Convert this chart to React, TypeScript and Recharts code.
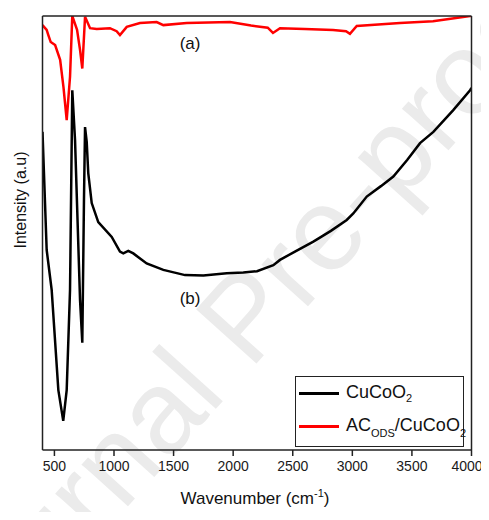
import {
  LineChart,
  Line,
  XAxis,
  YAxis,
  ReferenceDot,
} from "recharts";

// CuCoO2 (b)
const cucoWavenumber = [
  400, 435, 477, 533, 574, 603, 631, 650, 673, 715, 734, 748, 757, 771, 784,
  813, 868, 981, 1050, 1078, 1120, 1162, 1274, 1414, 1596, 1750, 1946, 2085,
  2200, 2337, 2393, 2530, 2673, 2820, 2953, 3008, 3121, 3240, 3344, 3460, 3568,
  3680, 3847, 3988, 4000,
];
const cucoIntensity = [
  73.3, 46.1, 36.9, 13.8, 6.7, 13.8, 36.9, 82.9, 71.4, 34.6, 24.7, 57.6, 74.4,
  71.0, 63.8, 56.9, 52.5, 49.1, 45.7, 45.3, 45.9, 45.3, 43.0, 41.5, 40.3, 40.2,
  40.7, 40.9, 41.2, 42.6, 43.8, 45.9, 48.0, 50.5, 53.0, 54.5, 58.4, 60.8, 63.0,
  66.8, 70.7, 73.3, 78.3, 82.9, 83.4,
];

// AC_ODS/CuCoO2 (a)
const acWavenumber = [
  400, 435, 449, 469, 506, 548, 576, 603, 631, 650, 690, 715, 734, 757, 799,
  855, 966, 1022, 1050, 1107, 1218, 1358, 1414, 1610, 1973, 2150, 2290, 2334,
  2393, 2600, 2838, 2947, 2980, 3037, 3400, 3677, 3988, 4000,
];
const acIntensity = [
  97.9, 96.8, 95.6, 94.0, 93.3, 89.9, 83.6, 76.0, 86.0, 100, 96.8, 92.2, 87.9,
  99.8, 97.2, 97.0, 97.2, 96.5, 95.6, 97.5, 98.4, 98.6, 97.9, 98.4, 98.6, 97.8,
  97.3, 96.1, 97.2, 97.0, 96.8, 96.5, 95.9, 97.7, 98.4, 98.8, 100, 100,
];

const xTicks = [500, 1000, 1500, 2000, 2500, 3000, 3500, 4000];

const cucoData = cucoWavenumber.map((x, i) => ({ x, y: cucoIntensity[i] }));
const acData = acWavenumber.map((x, i) => ({ x, y: acIntensity[i] }));

const FONT = "Arial, 'Liberation Sans', sans-serif";
const FRAME = "#222";
const frameLine = { stroke: FRAME, strokeWidth: 1.5 };

const XTitle = () => (
  <text x={247} y={496} textAnchor="middle" fontFamily={FONT} fontSize={17} fill="#111">
    <tspan>Wavenumber (cm</tspan>
    <tspan dy={-7} fontSize={11}>-1</tspan>
    <tspan dy={7}>)</tspan>
  </text>
);

const legendText = { position: "absolute" as const, left: 50, fontSize: 18, fontFamily: FONT, color: "#111", lineHeight: "20px" };

export default function App() {
  return (
    <div style={{ position: "relative", width: 473, height: 504 }}>
      <svg width={473} height={504} style={{ position: "absolute", left: 0, top: 0 }}>
        <text
          x={266}
          y={336}
          textAnchor="middle"
          transform="rotate(-48 266 336)"
          fontFamily={FONT}
          fontSize={118}
          fill="#ebebeb"
        >
          Journal Pre-proof
        </text>
        <text
          x={12}
          y={192}
          textAnchor="middle"
          dominantBaseline="central"
          transform="rotate(-90 12 192)"
          fontFamily={FONT}
          fontSize={16}
          fill="#111"
        >
          Intensity (a.u)
        </text>
      </svg>
      <div style={{ position: "absolute", left: 0, top: 0 }}>
        <LineChart
          width={473}
          height={504}
          margin={{ top: 7, right: 8.5, left: 33.5, bottom: 32 }}
        >
          <XAxis
            dataKey="x"
            type="number"
            domain={[400, 4000]}
            ticks={xTicks}
            allowDataOverflow
            height={30}
            tickSize={6}
            tickMargin={5}
            axisLine={frameLine}
            tickLine={frameLine}
            tick={{ fill: "#1a1a1a", fontSize: 14, fontFamily: FONT }}
            label={<XTitle />}
          />
          <XAxis
            xAxisId="top"
            orientation="top"
            dataKey="x"
            type="number"
            domain={[400, 4000]}
            height={1}
            tick={false}
            tickLine={false}
            axisLine={frameLine}
          />
          <YAxis
            type="number"
            domain={[0, 100]}
            allowDataOverflow
            width={1}
            tick={false}
            tickLine={false}
            axisLine={frameLine}
          />
          <YAxis
            yAxisId="right"
            orientation="right"
            type="number"
            domain={[0, 100]}
            width={1}
            tick={false}
            tickLine={false}
            axisLine={frameLine}
          />
          <Line
            data={cucoData}
            dataKey="y"
            type="linear"
            stroke="#000"
            strokeWidth={2.5}
            dot={false}
            isAnimationActive={false}
          />
          <Line
            data={acData}
            dataKey="y"
            type="linear"
            stroke="#ff0000"
            strokeWidth={2.5}
            dot={false}
            isAnimationActive={false}
          />
          <ReferenceDot
            x={1638}
            y={93.8}
            r={0}
            fill="none"
            stroke="none"
            label={{ value: "(a)", position: "center", fontSize: 17, fontFamily: FONT, fill: "#111" }}
          />
          <ReferenceDot
            x={1638}
            y={35}
            r={0}
            fill="none"
            stroke="none"
            label={{ value: "(b)", position: "center", fontSize: 17, fontFamily: FONT, fill: "#111" }}
          />
        </LineChart>
      </div>
      <div
        style={{
          position: "absolute",
          left: 287,
          top: 367.5,
          width: 169,
          height: 71,
          boxSizing: "border-box",
          border: `1.5px solid ${FRAME}`,
          background: "#fff",
        }}
      >
        <div style={{ position: "absolute", left: 3, top: 15, width: 40, height: 3, background: "#000" }} />
        <div style={{ ...legendText, top: 5 }}>
          CuCoO<sub style={{ fontSize: 11, verticalAlign: "-4px" }}>2</sub>
        </div>
        <div style={{ position: "absolute", left: 3, top: 48, width: 40, height: 3, background: "#ff0000" }} />
        <div style={{ ...legendText, top: 38 }}>
          AC<sub style={{ fontSize: 11, verticalAlign: "-6px" }}>ODS</sub>/CuCoO
          <sub style={{ fontSize: 11, verticalAlign: "-6px" }}>2</sub>
        </div>
      </div>
    </div>
  );
}
